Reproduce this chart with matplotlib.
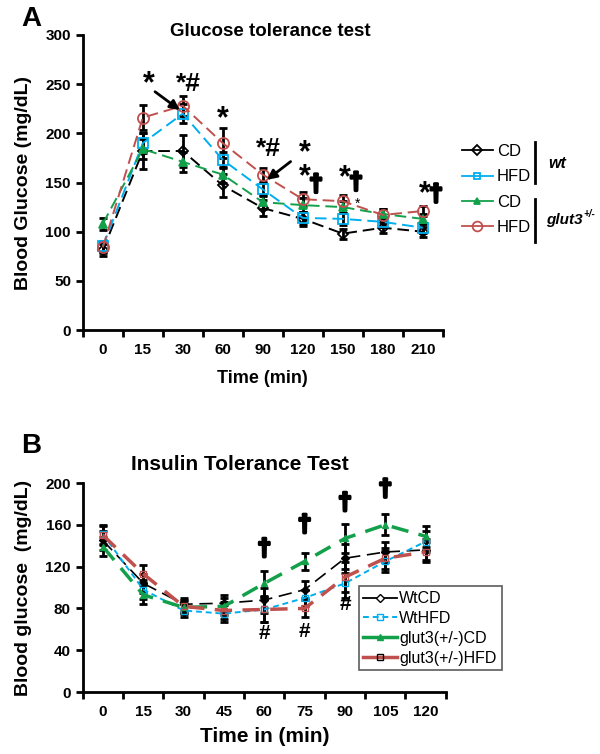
import matplotlib
matplotlib.use("Agg")
import matplotlib.pyplot as plt
import matplotlib.patheffects as pe
from matplotlib.lines import Line2D
import numpy as np

plt.rcParams['font.family'] = ['Liberation Sans', 'DejaVu Sans']
plt.rcParams['font.weight'] = 'bold'

# ---- Panel A: glucose tolerance test ----
gtt_times = ['0', '15', '30', '60', '90', '120', '150', '180', '210']
gtt_wt_cd = [81, 182, 182, 147, 124, 113, 98, 104, 100]
gtt_wt_hfd = [85, 190, 220, 173, 143, 114, 113, 110, 104]
gtt_glut_cd = [108, 184, 171, 158, 130, 127, 125, 118, 113]
gtt_glut_hfd = [84, 216, 228, 190, 158, 133, 131, 117, 121]
gtt_err_wt_cd = [6, 18, 16, 12, 8, 7, 5, 5, 5]
gtt_err_wt_hfd = [6, 10, 10, 8, 7, 6, 6, 5, 5]
gtt_err_glut_cd = [6, 10, 10, 8, 7, 7, 6, 5, 5]
gtt_err_glut_hfd = [6, 13, 10, 15, 7, 7, 6, 6, 5]

# ---- Panel B: insulin tolerance test ----
itt_times = ['0', '15', '30', '45', '60', '75', '90', '105', '120']
itt_wt_cd = [145, 104, 84, 85, 88, 98, 128, 134, 136]
itt_wt_hfd = [151, 98, 78, 75, 79, 90, 104, 125, 144]
itt_glut_cd = [139, 93, 81, 82, 104, 125, 147, 160, 149]
itt_glut_hfd = [150, 113, 82, 78, 79, 80, 110, 128, 134]
itt_err = [9, 9, 6, 8, 12, 8, 14, 10, 10]

fig = plt.figure(figsize=(6, 7.54), dpi=100)
thick = [pe.withStroke(linewidth=2.2, foreground='black')]


def style_axes(ax, n, labels, ymax, ystep):
    ax.set_xlim(-0.5, n - 0.5)
    ax.set_ylim(0, ymax)
    ax.set_yticks(np.arange(0, ymax + 1, ystep))
    ax.set_xticks(np.arange(-0.5, n, 1.0))
    ax.set_xticklabels([])
    ax.set_xticks(np.arange(n), minor=True)
    ax.set_xticklabels(labels, minor=True)
    ax.tick_params(axis='x', which='minor', length=0, pad=9, labelsize=11)
    ax.tick_params(axis='x', which='major', length=5, width=2)
    ax.tick_params(axis='y', length=5, width=2, labelsize=11)
    for s in ['top', 'right']:
        ax.spines[s].set_visible(False)
    for s in ['left', 'bottom']:
        ax.spines[s].set_linewidth(2)
    for lab in ax.get_xticklabels(minor=True) + ax.get_yticklabels():
        lab.set_fontweight('bold')


def dagger(ax, x, y, size=17):
    ax.text(x, y, '\u2020', fontsize=size, ha='center', va='center',
            fontweight='bold', path_effects=thick)


# ---------------- Panel A ----------------
axA = fig.add_axes([0.138, 0.5623, 0.6, 0.3913])
x = np.arange(len(gtt_times))
seriesA = [
    (gtt_wt_cd, gtt_err_wt_cd, 'black', 'D', 'white', 5),
    (gtt_wt_hfd, gtt_err_wt_hfd, '#00aeef', 's', 'white', 7),
    (gtt_glut_cd, gtt_err_glut_cd, '#12a04a', '^', '#12a04a', 6),
    (gtt_glut_hfd, gtt_err_glut_hfd, '#c0504d', 'o', 'white', 8),
]
for vals, err, col, mk, fc, ms in seriesA:
    axA.errorbar(x, vals, yerr=err, fmt='none', ecolor='black', elinewidth=2,
                 capsize=3, capthick=2, zorder=2)
for vals, err, col, mk, fc, ms in seriesA:
    axA.plot(x, vals, color=col, ls=(0, (6, 3)), lw=1.4, marker=mk, ms=ms,
             mfc='none' if fc == 'white' else fc, mec=col, mew=1.3, zorder=3)

style_axes(axA, len(gtt_times), gtt_times, 300, 50)
axA.set_ylabel('Blood Glucose (mg/dL)', fontsize=14, fontweight='bold', labelpad=10)
axA.set_xlabel('Time (min)', fontsize=13, fontweight='bold', labelpad=10)
fig.text(0.45, 1 - 31 / 754, 'Glucose tolerance test', fontsize=13.5, fontweight='bold',
         ha='center', va='center')
fig.text(0.035, 0.975, 'A', fontsize=20, fontweight='bold', va='center')

# significance marks (panel A)
axA.text(1.15, 250, '*', fontsize=22, ha='center', va='center')
axA.annotate('', xy=(1.98, 222), xytext=(1.25, 244),
             arrowprops=dict(arrowstyle='-|>', color='black', lw=2, mutation_scale=14))
axA.text(2.15, 250, '*#', fontsize=19, ha='center', va='center')
axA.text(3.0, 214, '*', fontsize=22, ha='center', va='center')
axA.text(4.15, 184, '*#', fontsize=19, ha='center', va='center')
axA.annotate('', xy=(4.05, 151), xytext=(4.75, 173),
             arrowprops=dict(arrowstyle='-|>', color='black', lw=2, mutation_scale=14))
axA.text(5.05, 180, '*', fontsize=22, ha='center', va='center')
axA.text(5.05, 155, '*', fontsize=22, ha='center', va='center')
dagger(axA, 5.33, 148)
axA.text(6.05, 154, '*', fontsize=22, ha='center', va='center')
dagger(axA, 6.33, 150)
axA.text(6.38, 128, '*', fontsize=10, ha='center', va='center', fontweight='normal')
axA.text(8.05, 138, '*', fontsize=22, ha='center', va='center')
dagger(axA, 8.33, 138)

# legend panel A
handlesA = [Line2D([], [], color=c, lw=1.3, marker=m, ms=5 if m != 'o' else 7,
                   mfc='none' if fc == 'white' else fc, mec=c, mew=1.3)
            for _, _, c, m, fc, ms in seriesA]
legA = fig.legend(handlesA, ['CD', 'HFD', 'CD', 'HFD'], loc='upper left',
                  bbox_to_anchor=(462 / 600, 1 - 144 / 754), frameon=False, fontsize=12,
                  handlelength=1.85, handletextpad=0.25, labelspacing=0.62,
                  borderpad=0, borderaxespad=0)
for t in legA.get_texts():
    t.set_fontweight('normal')
fig.add_artist(Line2D([535 / 600, 535 / 600], [1 - 142 / 754, 1 - 183 / 754], color='black', lw=2))
fig.add_artist(Line2D([535 / 600, 535 / 600], [1 - 199 / 754, 1 - 242 / 754], color='black', lw=2))
fig.text(548 / 600, 1 - 163 / 754, 'wt', fontsize=11.5, fontstyle='italic', fontweight='bold',
         va='center')
fig.text(546 / 600, 1 - 220 / 754, 'glut3', fontsize=11, fontstyle='italic',
         fontweight='bold', va='center')
fig.text(583 / 600, 1 - 214 / 754, '+/-', fontsize=7, fontstyle='italic',
         fontweight='bold', va='center')

# ---------------- Panel B ----------------
axB = fig.add_axes([0.138, 0.0822, 0.605, 0.2772])
xb = np.arange(len(itt_times))
for vals in [itt_wt_cd, itt_wt_hfd, itt_glut_cd, itt_glut_hfd]:
    axB.errorbar(xb, vals, yerr=itt_err, fmt='none', ecolor='black', elinewidth=2,
                 capsize=3, capthick=2, zorder=2)
axB.plot(xb, itt_wt_cd, color='black', ls=(0, (8, 4)), lw=1.2, marker='D', ms=4,
         mfc='black', mec='black', zorder=3)
axB.plot(xb, itt_wt_hfd, color='#00aeef', ls=(0, (3, 2)), lw=1.4, marker='s', ms=5,
         mfc='none', mec='#00aeef', zorder=3)
axB.plot(xb, itt_glut_cd, color='#12a04a', ls=(0, (5, 3)), lw=2.5, marker='^', ms=4,
         mfc='#12a04a', mec='#12a04a', zorder=3)
axB.plot(xb, itt_glut_hfd, color='#c0504d', ls=(0, (5, 3)), lw=2.5, marker='s', ms=4,
         mfc='none', mec='#c0504d', zorder=3)

style_axes(axB, len(itt_times), itt_times, 200, 40)
axB.set_ylabel('Blood glucose  (mg/dL)', fontsize=14, fontweight='bold', labelpad=10)
axB.set_xlabel('Time in (min)', fontsize=15, fontweight='bold', labelpad=6)
fig.text(0.4, 1 - 465 / 754, 'Insulin Tolerance Test', fontsize=15, fontweight='bold',
         ha='center', va='center')
fig.text(0.035, 1 - 446 / 754, 'B', fontsize=20, fontweight='bold', va='center')

for xi, yi in [(4, 137), (5, 160), (6, 181), (7, 194)]:
    dagger(axB, xi, yi)
for xi, yi in [(4, 56), (5, 58), (6, 84)]:
    axB.text(xi, yi, '#', fontsize=15, ha='center', va='center')

handlesB = [
    Line2D([], [], color='black', lw=1.3, marker='D', ms=4, mfc='white', mec='black'),
    Line2D([], [], color='#00aeef', lw=1.4, ls=(0, (3, 2)), marker='s', ms=5, mfc='none', mec='#00aeef'),
    Line2D([], [], color='#12a04a', lw=2.5, marker='^', ms=4, mfc='#12a04a', mec='#12a04a'),
    Line2D([], [], color='#c0504d', lw=2.5, marker='s', ms=4, mfc='none', mec='black'),
]
legB = axB.legend(handlesB, ['WtCD', 'WtHFD', 'glut3(+/-)CD', 'glut3(+/-)HFD'],
                  loc='upper left', bbox_to_anchor=(0.76, 0.505), fontsize=11.5,
                  frameon=True, fancybox=False, edgecolor='#333333',
                  handlelength=2.1, handletextpad=0.15, labelspacing=0.3, borderpad=0.3,
                  borderaxespad=0)
legB.get_frame().set_linewidth(1.2)
for t in legB.get_texts():
    t.set_fontweight('normal')

fig.savefig('out.png', dpi=100)
